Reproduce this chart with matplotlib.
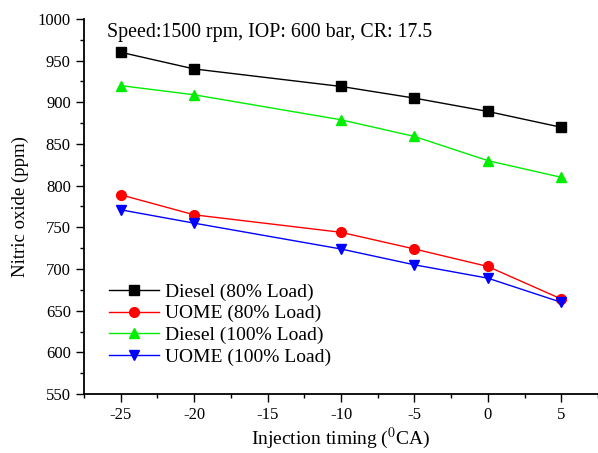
"""
Nitric oxide vs injection timing
"""

import matplotlib
matplotlib.use('Agg')
import matplotlib.pyplot as plt
from matplotlib.ticker import MultipleLocator

matplotlib.rcParams['font.family'] = ['Liberation Serif', 'DejaVu Serif']
matplotlib.rcParams['mathtext.fontset'] = 'stix'
matplotlib.rcParams['axes.unicode_minus'] = False

# data
timing = [-25, -20, -10, -5, 0, 5]
diesel_80 = [960, 940, 919, 905, 889, 870]
uome_80 = [789, 765, 744, 724, 703, 664]
diesel_100 = [920, 909, 879, 859, 830, 810]
uome_100 = [771, 755, 724, 705, 689, 660]

labels = ['Diesel (80% Load)', 'UOME (80% Load)', 'Diesel (100% Load)', 'UOME (100% Load)']

fig = plt.figure(figsize=(5.98, 4.53), dpi=100)
ax = fig.add_axes([0.1405, 0.1302, 0.8595, 0.828])

ax.plot(timing, diesel_80, color='black', lw=1, marker='s', ms=6.5, label=labels[0])
ax.plot(timing, uome_80, color='red', lw=1, marker='o', ms=7, label=labels[1])
ax.plot(timing, diesel_100, color='#00ee00', lw=1, marker='^', ms=7.5, label=labels[2])
ax.plot(timing, uome_100, color='blue', lw=1, marker='v', ms=7.5, label=labels[3])

ax.set_xlim(-27.5, 7.5)
ax.set_ylim(550, 1000)
ax.xaxis.set_major_locator(MultipleLocator(5))
ax.xaxis.set_minor_locator(MultipleLocator(2.5))
ax.yaxis.set_major_locator(MultipleLocator(50))
ax.yaxis.set_minor_locator(MultipleLocator(25))

ax.spines['top'].set_visible(False)
ax.spines['right'].set_visible(False)
ax.spines['left'].set_linewidth(1.3)
ax.spines['bottom'].set_linewidth(1.3)
ax.tick_params(which='major', direction='out', length=6, width=1, labelsize=12)
ax.tick_params(which='minor', direction='out', length=3, width=1)
ax.tick_params(axis='x', pad=3)

ax.set_xlabel('Injection timing ($^{0}$CA)', fontsize=14)
ax.xaxis.set_label_coords(0.5, -0.085)
ax.set_ylabel('Nitric oxide (ppm)', fontsize=13.5, labelpad=6)

ax.text(-25.93, 984, 'Speed:1500 rpm, IOP: 600 bar, CR: 17.5', fontsize=14.3, va='center')

ax.legend(loc='lower left', bbox_to_anchor=(0.033, 0.055), frameon=False, fontsize=14,
          handlelength=2.6, labelspacing=0.2, borderaxespad=0, handletextpad=0.3)

plt.savefig('out.png', dpi=100)
plt.close()
